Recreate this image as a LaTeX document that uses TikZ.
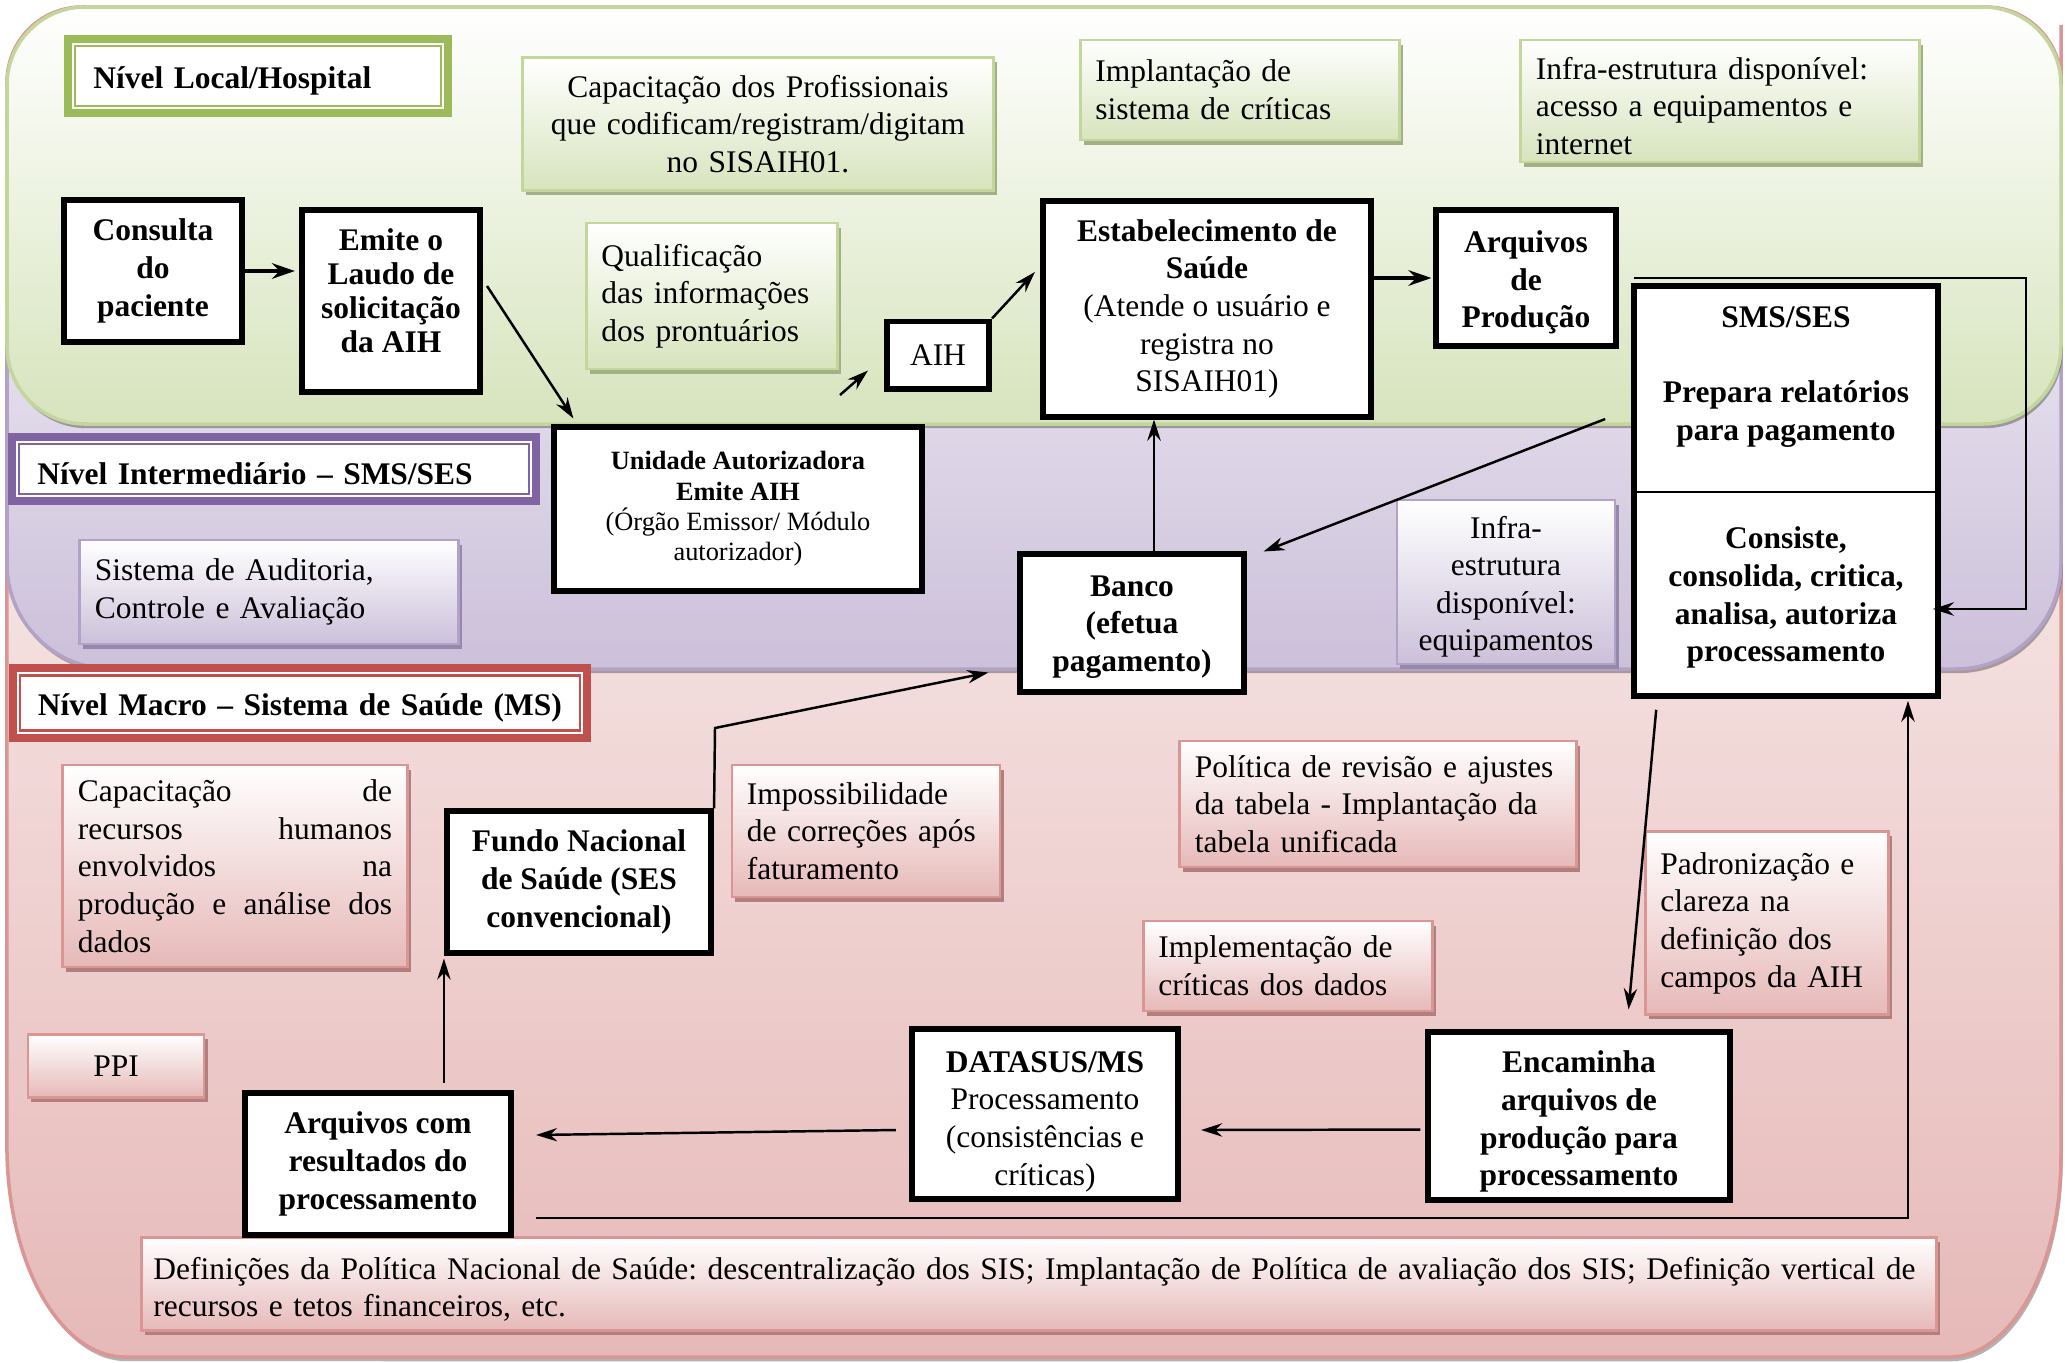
\documentclass[tikz,border=0pt]{standalone}
\usepackage{fontspec}
\setmainfont{Liberation Serif}
\frenchspacing
\usetikzlibrary{arrows.meta,positioning,shadows,calc}
\definecolor{tiergreen}{HTML}{9BBB59}
\definecolor{tierpurple}{HTML}{8064A2}
\definecolor{tierred}{HTML}{C0504D}
\definecolor{fillgreen}{HTML}{D7E4BD}
\definecolor{fillpurple}{HTML}{CCC0DA}
\definecolor{fillpink}{HTML}{E6B9B8}
\definecolor{edgegreen}{HTML}{C3D69B}
\definecolor{edgepurple}{HTML}{B3A2C7}
\definecolor{edgepink}{HTML}{D99694}
\definecolor{shadegreen}{HTML}{A2B087}
\definecolor{shadepurple}{HTML}{9688AA}
\definecolor{shadepink}{HTML}{B07F7E}
\newcommand{\bodysize}{\fontsize{8.95}{10.7}\selectfont}
\newcommand{\smallbody}{\fontsize{7.5}{8.6}\selectfont}
\tikzset{
  conn/.style={-{Stealth[length=6pt,width=3.8pt]}, line width=0.7pt},
  connthick/.style={-{Stealth[length=6.5pt,width=4.4pt]}, line width=1.2pt},
  procbox/.style={draw, line width=1.7pt, fill=white, align=center, font=\bodysize\bfseries, inner sep=2pt},
  smspart/.style={fill=white, align=center, font=\bodysize\bfseries, minimum width=3.02cm, minimum height=2.04cm, inner sep=2pt},
  tierlabel/.style={draw=#1, line width=0.6pt, fill=white, preaction={draw=#1, line width=6.3pt}, preaction={draw=white, line width=1.8pt}, align=left, font=\bodysize\bfseries, inner xsep=0.18cm, inner ysep=0.05cm, text height=9pt},
  notebox/.style={align=left, font=\bodysize, inner xsep=0.15cm, inner ysep=0.05cm, line width=0.8pt, top color=white},
  notegreen/.style={notebox, draw=edgegreen, bottom color=fillgreen, drop shadow={shadow xshift=1pt, shadow yshift=-1.4pt, fill=shadegreen, opacity=1}},
  notepurple/.style={notebox, draw=edgepurple, bottom color=fillpurple, drop shadow={shadow xshift=1pt, shadow yshift=-1.4pt, fill=shadepurple, opacity=1}},
  notepink/.style={notebox, draw=edgepink, bottom color=fillpink, drop shadow={shadow xshift=1pt, shadow yshift=-1.4pt, fill=shadepink, opacity=1}},
  band/.style={line width=1pt, top color=white, drop shadow={shadow xshift=0.5pt, shadow yshift=-1.2pt, fill=black, opacity=0.3}}
}
\begin{document}
\begin{tikzpicture}[x=0.01cm, y=-0.01cm]
  \useasboundingbox (0,0) rectangle (2065,1363);
  \path[band, draw=edgepink, bottom color=fillpink] (7,300) [rounded corners=0.75cm] -- (7,7) -- (2061,7) -- (2061,100) [sharp corners] -- (2061,1157) arc[start angle=0, end angle=-90, x radius=1.12cm, y radius=2cm] -- (125,1357) arc[start angle=270, end angle=180, x radius=1.18cm, y radius=2.11cm] -- cycle;
  \path[band, draw=edgepurple, bottom color=fillpurple, rounded corners=1.05cm] (7,7) rectangle (2061,669);
  \path[band, draw=edgegreen, bottom color=fillgreen, rounded corners=0.78cm] (7,7) rectangle (2061,424);

  \node[tierlabel=tiergreen, text width=3.29cm, minimum height=0.6cm] (tierlocal) at (258,76) {Nível Local/Hospital};
  \node[tierlabel=tierpurple, text width=4.73cm, minimum height=0.5cm] (tiermid) at (274,469) {Nível Intermediário – SMS/SES};
  \node[tierlabel=tierred, text width=5.24cm, minimum height=0.55cm] (tiermacro) at (300,703) {Nível Macro – Sistema de Saúde (MS)};

  \node[notegreen, align=center, text width=4.4cm, minimum height=1.33cm] (capprof) at (758,124) {Capacitação dos Profissionais\\que codificam/registram/digitam\\no SISAIH01.};
  \node[notegreen, text width=2.89cm, minimum height=1.0cm] (implsis) at (1240,90) {Implantação de\\sistema de críticas};
  \node[notegreen, text width=3.68cm, minimum height=1.22cm, text height=9pt] (infranet) at (1720,101) {Infra-estrutura disponível:\\acesso a equipamentos e\\internet};
  \node[notegreen, text width=2.21cm, minimum height=1.46cm] (qualif) at (712,296) {Qualificação\\das informações\\dos prontuários};
  \node[notepurple, text width=3.48cm, minimum height=1.04cm] (audit) at (269,592) {Sistema de Auditoria,\\Controle e Avaliação};
  \node[notepurple, align=center, text width=1.88cm, minimum height=1.64cm, text height=9pt] (infraeq) at (1506,582) {Infra-\\estrutura\\disponível:\\equipamentos};
  \node[notepink, text width=3.14cm, minimum height=2.02cm] (caprh) at (235,866) {Capacitação\hfill de\\recursos\hfill humanos\\envolvidos\hfill na\\produção\hfill e\hfill análise\hfill dos\\dados};
  \node[notepink, text width=2.38cm, minimum height=1.32cm] (imposs) at (866,831) {Impossibilidade\\de correções após\\faturamento};
  \node[notepink, text width=3.66cm, minimum height=1.26cm] (tabela) at (1378,804) {Política de revisão e ajustes\\da tabela - Implantação da\\tabela unificada};
  \node[notepink, text width=2.13cm, minimum height=1.83cm] (padron) at (1767,923) {Padronização e\\clareza na\\definição dos\\campos da AIH};
  \node[notepink, text width=2.59cm, minimum height=0.9cm] (implcrit) at (1288,966) {Implementação de\\críticas dos dados};
  \node[notepink, align=center, text width=1.46cm, minimum height=0.63cm] (ppi) at (116,1066) {PPI};
  \node[notepink, inner xsep=0.12cm, text width=17.7cm, minimum height=0.93cm, text height=9.3pt] (politica) at (1039,1284) {Definições da Política Nacional de Saúde: descentralização dos SIS; Implantação de Política de avaliação dos SIS; Definição vertical de\\recursos e tetos financeiros, etc.};

  \node[procbox, minimum width=1.77cm, minimum height=1.41cm] (cons) at (153,271) {Consulta\\do\\paciente};
  \node[procbox, font=\fontsize{8.95}{9.7}\selectfont\bfseries, text depth=5.8pt, minimum width=1.78cm, minimum height=1.82cm] (laudo) at (391,301) {Emite o\\Laudo de\\solicitação\\da AIH};
  \node[procbox, font=\smallbody\bfseries, minimum width=3.67cm, minimum height=1.63cm] (unid) at (738,509) {Unidade Autorizadora\\Emite AIH\\\textmd{(Órgão Emissor/ Módulo}\\\textmd{autorizador)}};
  \node[procbox, font=\bodysize, minimum width=1.02cm, minimum height=0.67cm] (aih) at (938,355) {AIH};
  \node[procbox, minimum width=3.28cm, minimum height=2.15cm] (estab) at (1207,309) {Estabelecimento de\\Saúde\\\textmd{(Atende o usuário e}\\\textmd{registra no}\\\textmd{SISAIH01)}};
  \node[procbox, text height=30.1pt, minimum width=1.79cm, minimum height=1.35cm] (arqprod) at (1526,278) {Arquivos\\de\\Produção};
  \node[smspart, text depth=8.8pt] (smsA) at (1786,389) {SMS/SES\\[10.7pt]Prepara relatórios\\para pagamento};
  \node[smspart, text height=41pt] (smsB) at (1786,593) {Consiste,\\consolida, critica,\\analisa, autoriza\\processamento};
  \draw[line width=1.7pt] (smsA.north west) rectangle (smsB.south east);
  \draw[line width=0.7pt] (smsA.south west) -- (smsA.south east);
  \node[procbox, text height=29.5pt, minimum width=2.23cm, minimum height=1.37cm] (banco) at (1132,623) {Banco\\(efetua\\pagamento)};
  \node[procbox, minimum width=2.64cm, minimum height=1.41cm] (fundo) at (579,882) {Fundo Nacional\\de Saúde (SES\\convencional)};
  \node[procbox, minimum width=2.66cm, minimum height=1.42cm] (arqres) at (378,1164) {Arquivos com\\resultados do\\processamento};
  \node[procbox, text height=42.3pt, minimum width=2.66cm, minimum height=1.64cm] (datasus) at (1045,1114) {DATASUS/MS\\\textmd{Processamento}\\\textmd{(consistências e}\\\textmd{críticas)}};
  \node[procbox, text height=41.6pt, minimum width=3.01cm, minimum height=1.65cm] (encam) at (1579,1116) {Encaminha\\arquivos de\\produção para\\processamento};

  \coordinate (qualtip) at (840,395);
  \coordinate (prodturn) at (2026,276);
  \coordinate (fundoturn) at (715,728);
  \coordinate (resturn) at (1908,1218);

  \draw[connthick, shorten >=0.04cm] (cons.east) -- (cons.east -| laudo.west);
  \draw[conn] ([xshift=0.04cm,yshift=0.15cm]laudo.east) -- ([xshift=0.22cm,yshift=0.06cm]unid.north west);
  \draw[conn] (qualtip) -- ([xshift=-0.16cm,yshift=0.21cm]aih.south west);
  \draw[conn] (aih.north east) -- ([xshift=-0.05cm,yshift=0.37cm]estab.west);
  \draw[connthick, shorten >=0.02cm] (arqprod.west -| estab.east) -- (arqprod.west);
  \draw[conn, shorten <=0.15cm, shorten >=-0.05cm] (arqprod.east) -- (arqprod.east -| prodturn) |- ([yshift=-0.16cm]smsB.east);
  \draw[conn] ([xshift=-0.29cm,yshift=-0.3cm]smsA.west) -- ([xshift=0.17cm]banco.north east);
  \draw[conn] ([xshift=0.22cm]banco.north) -- ([xshift=0.22cm]banco.north |- estab.south);
  \draw[conn] (fundo.north east) -- (fundoturn) -- ([xshift=-0.29cm,yshift=0.22cm]banco.south west);
  \draw[conn, shorten <=0.07cm, shorten >=0.03cm] (fundo.south west |- arqres.north) -- (fundo.south west);
  \draw[conn] ([xshift=-0.13cm,yshift=-0.16cm]datasus.west) -- ([xshift=0.22cm,yshift=0.29cm]arqres.east);
  \draw[conn] ([xshift=-0.05cm,yshift=-0.135cm]encam.west) -- ([xshift=0.2cm,yshift=-0.16cm]datasus.east);
  \draw[conn] ([xshift=0.22cm,yshift=-0.14cm]smsB.south west) -- ([xshift=2.03cm,yshift=0.2cm]encam.north west);
  \draw[conn, shorten <=0.22cm, shorten >=0.05cm] (arqres.east |- resturn) -- (resturn) -- (resturn |- smsB.south);
\end{tikzpicture}
\end{document}
